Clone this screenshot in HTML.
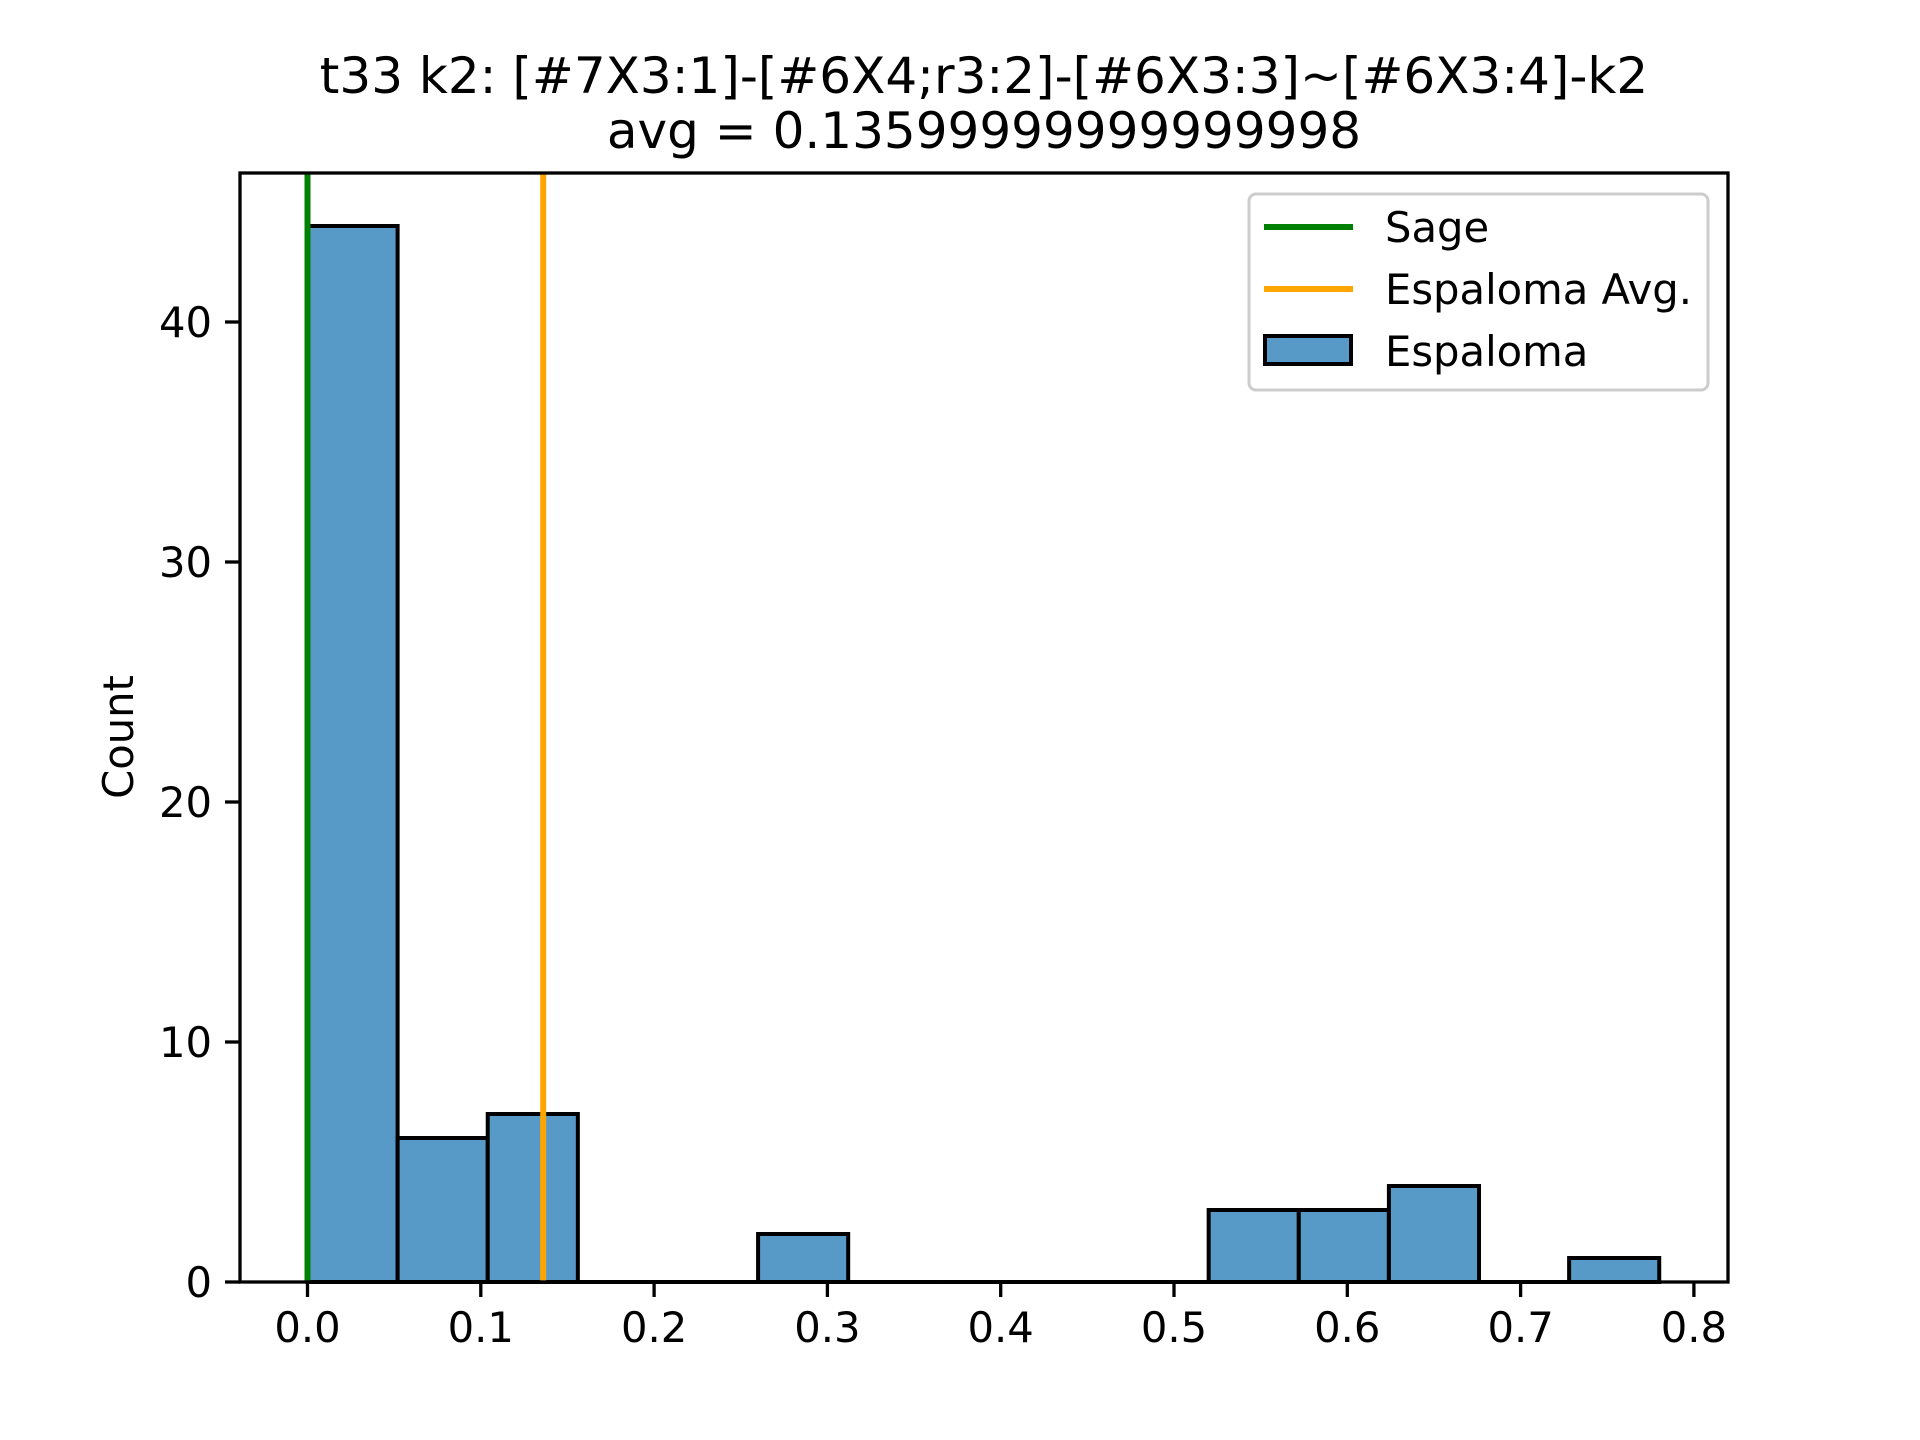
<!DOCTYPE html>
<html><head><meta charset="utf-8"><style>body{margin:0;background:#fff}svg{display:block}text{font-family:"DejaVu Sans","Liberation Sans",sans-serif;fill:#000}</style></head>
<body>
<svg id="c" width="1920" height="1440"></svg>
<script>
const binStart = 0.0;
const binWidth = 0.052;
const counts = [44, 6, 7, 0, 0, 2, 0, 0, 0, 0, 3, 3, 4, 0, 1];
const xTicks = [0.0, 0.1, 0.2, 0.3, 0.4, 0.5, 0.6, 0.7, 0.8];
const yTicks = [0, 10, 20, 30, 40];
const sageValue = 0.0;
const avgValue = 0.136;
const NS = "http://www.w3.org/2000/svg";
const svg = document.getElementById('c');
const L = 240, R = 1728, T = 173, B = 1282;
const x = v => 307.5 + v * 1733;
const y = v => B - v * 24;
function el(tag, attrs, txt) { const e = document.createElementNS(NS, tag); for (const k in attrs) e.setAttribute(k, attrs[k]); if (txt !== undefined) e.textContent = txt; svg.appendChild(e); return e; }
counts.forEach((c, i) => {
  if (c <= 0) { const e = el('line', {x1: x(binStart + i*binWidth), x2: x(binStart + (i+1)*binWidth), y1: B, y2: B, stroke: '#000', 'stroke-width': 4});   return; }
  const e = el('rect', {x: x(binStart + i*binWidth), y: y(c), width: x(binStart + (i+1)*binWidth) - x(binStart + i*binWidth), height: B - y(c), fill: '#5799c7', stroke: '#000', 'stroke-width': 4});
  
  
});
let s = el('line', {x1: x(sageValue), x2: x(sageValue), y1: T, y2: B, stroke: '#008000', 'stroke-width': 6});


let a = el('line', {x1: x(avgValue), x2: x(avgValue), y1: T, y2: B, stroke: '#ffa500', 'stroke-width': 6});


let fr = el('rect', {x: L, y: T, width: R - L, height: B - T, fill: 'none', stroke: '#000', 'stroke-width': 3.3});


xTicks.forEach(v => {
  const t = el('line', {x1: x(v), x2: x(v), y1: B, y2: B + 15, stroke: '#000', 'stroke-width': 3.3});
  
  
  const l = el('text', {x: x(v), y: B + 60, 'font-size': 41.7, 'text-anchor': 'middle'}, v.toFixed(1));
  
  
});
yTicks.forEach(v => {
  const t = el('line', {x1: L, x2: L - 15, y1: y(v), y2: y(v), stroke: '#000', 'stroke-width': 3.3});
  
  
  const l = el('text', {x: L - 28, y: y(v) + 15, 'font-size': 41.7, 'text-anchor': 'end'}, String(v));
  
  
});
</script>
<svg width="1920" height="1440" style="position:absolute;left:0;top:0">
<text x="984" y="93" font-size="50" text-anchor="middle">t33 k2: [#7X3:1]-[#6X4;r3:2]-[#6X3:3]~[#6X3:4]-k2</text>
<text x="984" y="148" font-size="50" text-anchor="middle">avg = 0.13599999999999998</text>
<text transform="translate(133,737) rotate(-90)" font-size="41.7" text-anchor="middle">Count</text>
<g>
<rect x="1249" y="194" width="459" height="196" rx="7" fill="#fff" fill-opacity="0.8" stroke="#ccc" stroke-width="3"/>
<line x1="1264" x2="1353" y1="227" y2="227" stroke="#008000" stroke-width="6"/>
<text x="1385" y="242" font-size="41.7">Sage</text>
<line x1="1264" x2="1353" y1="289" y2="289" stroke="#ffa500" stroke-width="6"/>
<text x="1385" y="304" font-size="41.7">Espaloma Avg.</text>
<rect x="1265" y="336" width="86" height="28" fill="#5799c7" stroke="#000" stroke-width="4"/>
<text x="1385" y="366" font-size="41.7">Espaloma</text>
</g>
</svg>
</body></html>
